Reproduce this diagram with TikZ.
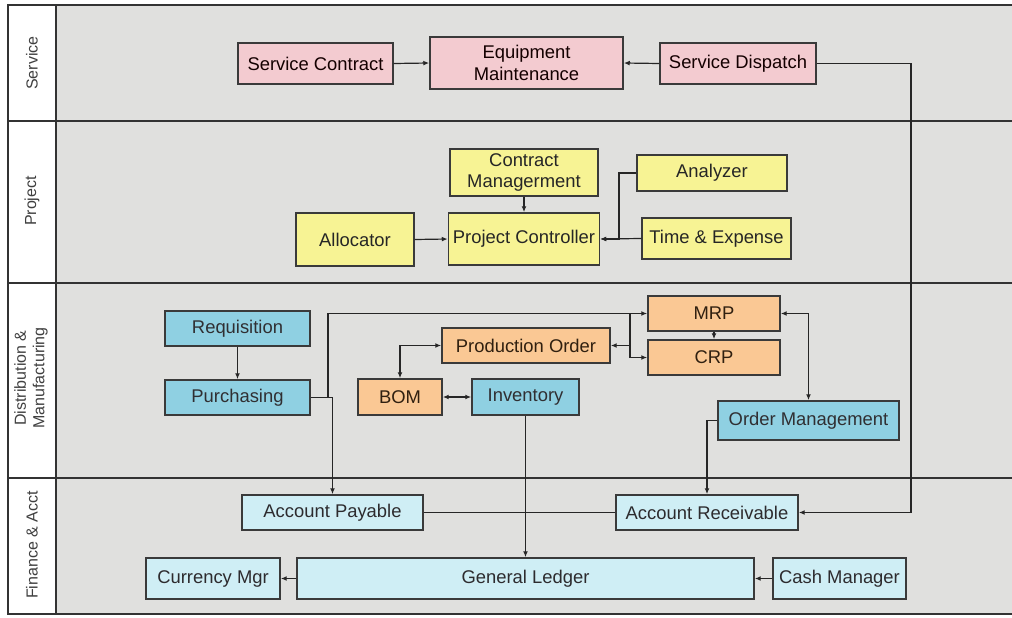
\documentclass[tikz,border=0pt]{standalone}
\usepackage{fontspec}
\setmainfont{Liberation Sans}
\usetikzlibrary{arrows.meta}
\definecolor{lanebg}{HTML}{E0E0DE}
\definecolor{framec}{HTML}{333333}
\definecolor{pinkf}{HTML}{F3CBD0}
\definecolor{yellowf}{HTML}{F7F394}
\definecolor{orangef}{HTML}{FAC894}
\definecolor{bluef}{HTML}{8FD0E2}
\definecolor{lbluef}{HTML}{CFEEF5}
\definecolor{boxline}{HTML}{3A3A3A}
\begin{document}
\begin{tikzpicture}[x=0.75pt,y=-0.75pt,
  box/.style={draw=boxline, line width=1.1pt, inner sep=1pt, align=center,
    font=\fontsize{13.8}{16}\selectfont},
  pinkbox/.style={box, fill=pinkf, text=black!80!red!40!black},
  yellowbox/.style={box, fill=yellowf, text=black!85},
  orangebox/.style={box, fill=orangef, text=black!75!brown},
  bluebox/.style={box, fill=bluef, text=black!80!cyan!40!black},
  lbluebox/.style={box, fill=lbluef, text=black!80!cyan!30!black},
  lanelabel/.style={rotate=90, align=center, text=black!75,
    font=\fontsize{12}{14}\selectfont},
  frameline/.style={draw=framec, line width=1.5pt},
  conn/.style={draw=black!85, line width=0.9pt},
  thickconn/.style={draw=black!85, line width=1.2pt},
  arr/.style={conn, -{Latex[length=4.5pt,width=3.6pt]}},
  tarr/.style={thickconn, -{Latex[length=4.5pt,width=3.6pt]}},
  darr/.style={conn, {Latex[length=4.5pt,width=3.6pt]}-{Latex[length=4.5pt,width=3.6pt]}}
]
\useasboundingbox (0,0) rectangle (1012,617);
\fill[white] (0,0) rectangle (1012,617);
\fill[lanebg] (56,5) rectangle (1012,614);
% frame and lanes
\draw[frameline] (1012,5) -- (8,5) -- (8,614) -- (1012,614);
\draw[frameline] (56,5) -- (56,614);
\draw[frameline] (8,121) -- (1012,121);
\draw[frameline] (8,283) -- (1012,283);
\draw[frameline] (8,478) -- (1012,478);
% lane labels
\node[lanelabel] (lserv) at (32,63) {Service};
\node[lanelabel] (lproj) at (32,201) {Project};
\node[lanelabel] (ldist) at (31,378) {Distribution \&\\Manufacturing};
\node[lanelabel] (lfin) at (32,545) {Finance \& Acct};
% Service
\node[pinkbox, minimum width=155*0.75pt, minimum height=41*0.75pt] (SC) at (315.5,63.5) {Service Contract};
\node[pinkbox, minimum width=193*0.75pt, minimum height=52*0.75pt] (EM) at (526.5,63) {Equipment\\Maintenance};
\node[pinkbox, minimum width=156*0.75pt, minimum height=41*0.75pt] (SD) at (738,63.5) {Service Dispatch};
% Project
\node[yellowbox, minimum width=148*0.75pt, minimum height=47*0.75pt] (CM) at (524,172.5) {Contract\\Managerment};
\node[yellowbox, minimum width=151*0.75pt, minimum height=52*0.75pt] (PC) at (524,239) {Project Controller};
\node[yellowbox, minimum width=118*0.75pt, minimum height=53*0.75pt] (AL) at (355,239.5) {Allocator};
\node[yellowbox, minimum width=150*0.75pt, minimum height=36*0.75pt] (AN) at (712,173) {Analyzer};
\node[yellowbox, minimum width=149*0.75pt, minimum height=41*0.75pt] (TE) at (716.5,238.5) {Time \& Expense};
% Distribution & Manufacturing
\node[bluebox, minimum width=145*0.75pt, minimum height=35*0.75pt] (RQ) at (237.5,328.5) {Requisition};
\node[bluebox, minimum width=145*0.75pt, minimum height=35*0.75pt] (PU) at (237.5,397.5) {Purchasing};
\node[orangebox, minimum width=132*0.75pt, minimum height=35*0.75pt] (MRP) at (714,313.5) {MRP};
\node[orangebox, minimum width=132*0.75pt, minimum height=35*0.75pt] (CRP) at (714,357.5) {CRP};
\node[orangebox, minimum width=168*0.75pt, minimum height=35*0.75pt] (PO) at (526,345.5) {Production Order};
\node[orangebox, minimum width=84*0.75pt, minimum height=36*0.75pt] (BOM) at (400,397) {BOM};
\node[bluebox, minimum width=107*0.75pt, minimum height=36*0.75pt] (INV) at (525.5,397) {Inventory};
\node[bluebox, minimum width=181*0.75pt, minimum height=39*0.75pt] (OM) at (808.5,420.5) {Order Management};
% Finance
\node[lbluebox, minimum width=181*0.75pt, minimum height=35*0.75pt] (AP) at (332.5,512.5) {Account Payable};
\node[lbluebox, minimum width=182*0.75pt, minimum height=35*0.75pt] (AR) at (707,512.5) {Account Receivable};
\node[lbluebox, minimum width=134*0.75pt, minimum height=41*0.75pt] (CUR) at (213,578.5) {Currency Mgr};
\node[lbluebox, minimum width=457*0.75pt, minimum height=41*0.75pt] (GL) at (525.5,578.5) {General Ledger};
\node[lbluebox, minimum width=133*0.75pt, minimum height=41*0.75pt] (CASH) at (839.5,578.5) {Cash Manager};
% junction coordinates
\coordinate (sdturn) at (911,63.5);
\coordinate (anturn) at (619,173);
\coordinate (pj) at (328,397.5);
\coordinate (mj) at (630,313.5);
% connectors: Service
\draw[arr] (SC.east) -- (EM.west);
\draw[arr] (SD.west) -- (EM.east);
\draw[tarr] (SD.east) -- (sdturn) |- (AR.east);
% Project
\draw[arr] (CM.south) -- (PC.north);
\draw[arr] (AL.east) -- (PC.west);
\draw[arr] (AN.west) -- (anturn) |- (PC.east);
\draw[arr] (TE.west) -- (PC.east);
% Distribution
\draw[arr] (RQ.south) -- (PU.north);
\draw[arr] (PU.east) -| (AP.north);
\draw[arr] (pj) |- (MRP.west);
\draw[arr] (mj) |- (PO.east);
\draw[arr] (mj) |- (CRP.west);
\draw[arr] (MRP.south) -- (CRP.north);
\draw[darr] (BOM.north) |- (PO.west);
\draw[darr] (BOM.east) -- (INV.west);
\draw[darr] (MRP.east) -| (OM.north);
\draw[arr] (OM.west) -| (AR.north);
\draw[tarr] (INV.south) -- (GL.north);
% Finance
\draw[conn] (AP.east) -- (AR.west);
\draw[arr] (GL.west) -- (CUR.east);
\draw[arr] (CASH.west) -- (GL.east);
\end{tikzpicture}
\end{document}
